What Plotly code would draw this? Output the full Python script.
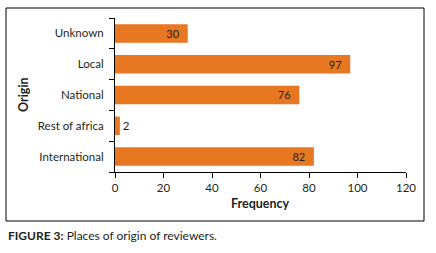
import plotly.graph_objects as go

categories = ["International", "Rest of africa", "National", "Local", "Unknown"]
frequency = [82, 2, 76, 97, 30]
x_ticks = [0, 20, 40, 60, 80, 100, 120]

FONT = "Lato, 'Liberation Sans', sans-serif"
BAR = "#E87722"
TXT = "#231F20"

L, R, T, B = 115, 30, 18, 81
W, H = 436, 253
pw, ph = W - L - R, H - T - B

def px_x(x):
    return (x - L) / pw

def px_y(y):
    return (H - B - y) / ph

fig = go.Figure(go.Bar(
    y=categories, x=frequency, orientation="h",
    marker=dict(color=BAR, line=dict(width=0)),
    text=[str(v) for v in frequency],
    texttemplate="%{x}  ",
    textposition=["inside" if v > 10 else "outside" for v in frequency],
    insidetextanchor="end",
    textangle=0,
    textfont=dict(family=FONT, size=11.5, color=TXT),
    cliponaxis=False,
    width=0.6,
))

fig.update_layout(
    width=W, height=H,
    margin=dict(l=L, r=R, t=T, b=B, autoexpand=False),
    paper_bgcolor="white", plot_bgcolor="white",
    font=dict(family=FONT, size=11.5, color=TXT),
    showlegend=False,
    xaxis=dict(range=[0, 120], tickvals=x_ticks, showgrid=False, zeroline=False,
               showline=True, linecolor="#000", linewidth=1, automargin=False,
               ticks="outside", ticklen=5, tickcolor="#000", tickwidth=1,
               tickfont=dict(family=FONT, size=11.5, color=TXT)),
    yaxis=dict(type="category", categoryorder="array", categoryarray=categories,
               showgrid=False, zeroline=False, showline=True, linecolor="#000", linewidth=1,
               automargin=False,
               ticks="outside", tickson="boundaries", ticklen=5, tickcolor="#000", tickwidth=1,
               tickfont=dict(family=FONT, size=11.5, color=TXT), ticklabelstandoff=8),
    shapes=[dict(type="rect", xref="paper", yref="paper",
                 x0=px_x(6), x1=px_x(424), y0=px_y(221), y1=px_y(8),
                 line=dict(color="#000", width=1), fillcolor="rgba(0,0,0,0)", layer="below")],
    annotations=[
        dict(text="<b>Frequency</b>", xref="paper", yref="paper", x=px_x(260), y=px_y(203),
             xanchor="center", yanchor="middle", showarrow=False,
             font=dict(family=FONT, size=12.5, color=TXT)),
        dict(text="<b>Origin</b>", xref="paper", yref="paper", x=px_x(23), y=px_y(95),
             xanchor="center", yanchor="middle", showarrow=False, textangle=-90,
             font=dict(family=FONT, size=12.5, color=TXT)),
        dict(text="<b>FIGURE 3:</b> Places of origin of reviewers.", xref="paper", yref="paper",
             x=px_x(6), y=px_y(235), xanchor="left", yanchor="middle", showarrow=False,
             font=dict(family=FONT, size=12, color=TXT)),
    ],
)

fig.write_html("out.html", config={"displayModeBar": False},
               post_script="document.body.style.margin='0px';document.body.style.overflow='hidden';")
